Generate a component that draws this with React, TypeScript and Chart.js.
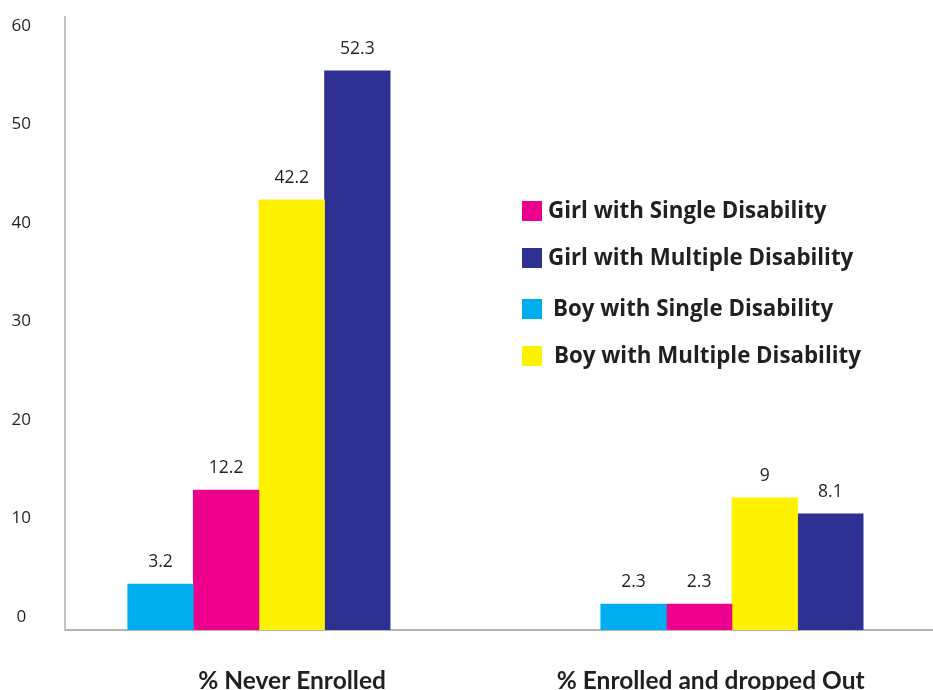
import React, { useEffect, useRef } from "react";
import { Chart, registerables } from "chart.js";

Chart.register(...registerables);

// Categories and their label positions (category index + small shift as in the source)
const categories = ["% Never Enrolled", "% Enrolled and dropped Out"];
const categoryLabelPos = [0.07, 0.955];

// Bar heights as drawn in the picture (axis units)
const boySingle = [4.67, 2.64];
const girlSingle = [14.21, 2.64];
const boyMultiple = [43.65, 13.4];
const girlMultiple = [56.75, 11.78];

// Value labels printed above the bars
const boySingleLabels = ["3.2", "2.3"];
const girlSingleLabels = ["12.2", "2.3"];
const boyMultipleLabels = ["42.2", "9"];
const girlMultipleLabels = ["52.3", "8.1"];

// Y axis tick labels
const yTicks = [0, 10, 20, 30, 40, 50, 60];

// Legend order as shown
const legendOrder = [
  "Girl with Single Disability",
  "Girl with Multiple Disability",
  "Boy with Single Disability",
  "Boy with Multiple Disability",
];

const CYAN = "#00AEEF";
const MAGENTA = "#EC008C";
const YELLOW = "#FFF200";
const NAVY = "#2E3192";
const TEXT = "#231F20";

export default function App() {
  const ref = useRef<HTMLCanvasElement | null>(null);

  useEffect(() => {
    document.body.style.margin = "0";
    const canvas = ref.current;
    if (!canvas) return;

    const mk = (label: string, vals: number[], texts: string[], color: string) => ({
      label,
      data: vals.map((v, i) => ({ x: i, y: v })),
      texts,
      backgroundColor: color,
      borderWidth: 0,
      barThickness: 65.6,
    });

    const datasets: any[] = [
      mk("Boy with Single Disability", boySingle, boySingleLabels, CYAN),
      mk("Girl with Single Disability", girlSingle, girlSingleLabels, MAGENTA),
      mk("Boy with Multiple Disability", boyMultiple, boyMultipleLabels, YELLOW),
      mk("Girl with Multiple Disability", girlMultiple, girlMultipleLabels, NAVY),
    ];

    const valueLabels = {
      id: "valueLabels",
      afterDatasetsDraw(chart: any) {
        const ctx = chart.ctx;
        ctx.save();
        ctx.font = "17.5px 'Open Sans'";
        ctx.fillStyle = TEXT;
        ctx.textAlign = "center";
        ctx.textBaseline = "middle";
        chart.data.datasets.forEach((ds: any, di: number) => {
          const meta = chart.getDatasetMeta(di);
          meta.data.forEach((bar: any, i: number) => {
            ctx.fillText(ds.texts[i], bar.x, bar.y - 22);
          });
        });
        ctx.restore();
      },
    };

    const legendRows = [
      { y: 211, tx: 548 },
      { y: 258, tx: 548 },
      { y: 309, tx: 553 },
      { y: 356, tx: 554 },
    ];

    const customLegend = {
      id: "customLegend",
      afterDraw(chart: any) {
        const ctx = chart.ctx;
        ctx.save();
        ctx.font = "bold 22.3px 'Open Sans'";
        ctx.textAlign = "left";
        ctx.textBaseline = "middle";
        legendOrder.forEach((name, k) => {
          const ds = chart.data.datasets.find((d: any) => d.label === name);
          const row = legendRows[k];
          ctx.fillStyle = ds.backgroundColor;
          ctx.fillRect(522, row.y - 10, 20, 20);
          ctx.fillStyle = TEXT;
          ctx.fillText(name, row.tx, row.y + 1);
        });
        ctx.restore();
      },
    };

    const chart = new Chart(canvas, {
      type: "bar",
      data: { datasets },
      options: {
        animation: false,
        responsive: false,
        layout: { padding: { top: 17, left: 0, right: 0, bottom: 0 } },
        plugins: {
          legend: { display: false },
          tooltip: { enabled: false },
        },
        scales: {
          x: {
            type: "linear",
            offset: false,
            bounds: "data",
            min: -0.41,
            max: 1.425,
            grid: { display: false, offset: false },
            border: { display: true, color: "#b3b3b3", width: 2 },
            afterBuildTicks: (scale: any) => {
              scale.ticks = categoryLabelPos.map((v) => ({ value: v }));
            },
            afterFit: (scale: any) => {
              scale.height = 60;
              scale.paddingLeft = 0;
              scale.paddingRight = 0;
              scale.paddingTop = 0;
              scale.paddingBottom = 0;
            },
            ticks: {
              autoSkip: false,
              maxRotation: 0,
              minRotation: 0,
              padding: 28,
              color: TEXT,
              font: { family: "Lato", size: 24.5, weight: "bold" },
              callback: (v: any) => {
                const idx = categoryLabelPos.indexOf(Number(v));
                return idx >= 0 ? categories[idx] : "";
              },
            },
          },
          y: {
            min: 0,
            max: 62.2,
            grid: { display: false },
            border: { display: true, color: "#c4c4c4", width: 2 },
            afterBuildTicks: (scale: any) => {
              scale.ticks = yTicks.map((v) => ({ value: v }));
            },
            afterFit: (scale: any) => {
              scale.width = 65;
              scale.paddingTop = 0;
              scale.paddingBottom = 0;
              scale.paddingLeft = 0;
              scale.paddingRight = 0;
            },
            ticks: {
              color: TEXT,
              font: { family: "'Open Sans'", size: 17 },
              crossAlign: "center",
              padding: 26,
              labelOffset: -13,
              callback: (v: any) => String(v),
            },
          },
        },
      } as any,
      plugins: [valueLabels, customLegend],
    });

    return () => chart.destroy();
  }, []);

  return (
    <div style={{ position: "fixed", left: 0, top: 0, width: 933, height: 690, background: "#fff" }}>
      <canvas ref={ref} width={933} height={690} style={{ width: 933, height: 690, display: "block" }} />
    </div>
  );
}
